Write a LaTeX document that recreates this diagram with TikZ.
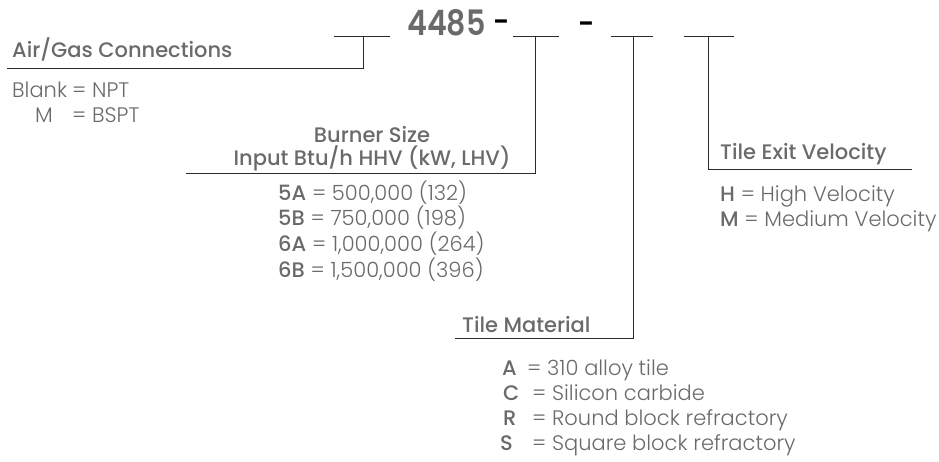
\documentclass[tikz,border=0pt]{standalone}
\usepackage{fontspec}
\setmainfont{Poppins}[UprightFont=* Light, BoldFont=* Medium]
\newfontfamily\modelfont{Poppins}[UprightFont=* SemiBold]
\usetikzlibrary{positioning}
\definecolor{txtgray}{HTML}{6A6A6A}
\definecolor{rulegray}{HTML}{2B2B2B}
\tikzset{
  head/.style={anchor=base west, inner sep=0pt, text=txtgray, font=\bfseries\fontsize{21}{23}\selectfont},
  item/.style={anchor=base west, inner sep=0pt, text=txtgray, font=\fontsize{21}{23}\selectfont},
  code/.style={item, font=\bfseries\fontsize{21}{23}\selectfont},
  rule/.style={rulegray, line width=1pt},
}
\begin{document}
\begin{tikzpicture}[x=1pt, y=-1pt]
    % 1. Page frame
    \useasboundingbox (0,0) rectangle (939,461);

    % 2. Model number and the dashes
    \node[anchor=base west, inner sep=0pt, text=txtgray, font=\modelfont\fontsize{35}{37}\selectfont]
        (model) at (407,35) {\scalebox{0.86}[1]{4485}};
    \node[anchor=base west, inner sep=0pt, font=\modelfont\fontsize{28}{30}\selectfont]
        (dash1) at (493,31) {-};
    \node[anchor=base west, inner sep=0pt, font=\modelfont\fontsize{28}{30}\selectfont]
        (dash2) at (578,33) {-};

    % 3. Blanks of the part number
    \coordinate (b1l) at (334,36); \coordinate (b1r) at (390,36); \coordinate (b1m) at (363,36);
    \coordinate (b2l) at (513,36); \coordinate (b2r) at (559,36); \coordinate (b2m) at (535,36);
    \coordinate (b3l) at (611,36); \coordinate (b3r) at (653,36); \coordinate (b3m) at (633,36);
    \coordinate (b4l) at (684,36); \coordinate (b4r) at (734,36); \coordinate (b4m) at (708,36);
    \foreach \b in {b1,b2,b3,b4}
        \draw[rule] (\b l) -- (\b r);

    % 4. Ends of the leader lines
    \coordinate (u1) at (7,68);
    \coordinate (u2) at (186,173);
    \coordinate (u3) at (455,338);
    \coordinate (u4) at (912,169);
    \draw[rule] (b1m) |- (u1);
    \draw[rule] (b2m) |- (u2);
    \draw[rule] (b3m) |- (u3);
    \draw[rule] (b4m) |- (u4);

    % 5. Air/Gas connections
    \node[head] (air) at (12,57) {Air/Gas Connections};
    \node[item] (blank) at (12,97) {Blank};
    \node[item] (npt) at (72,97) {= NPT};
    \node[item] (mark) at (35,122) {M};
    \node[item] (bspt) at (72,122) {= BSPT};

    % 6. Burner size
    \node[head, anchor=base] (size) at (372,142) {Burner Size};
    \node[head, anchor=base] (input) at (372,165) {Input Btu/h HHV (kW, LHV)};
    \foreach \c/\v [count=\i] in {5A/{500,000 (132)}, 5B/{750,000 (198)},
                                   6A/{1,000,000 (264)}, 6B/{1,500,000 (396)}}
        \node[item] (size\i) at (278, 174.3+25.7*\i) {\textbf{\c} = \v};

    % 7. Tile exit velocity
    \node[head] (exit) at (720,159) {Tile Exit Velocity};
    \node[item] (high) at (720,201) {\textbf{H} = High Velocity};
    \node[item] (medium) at (720,226) {\textbf{M} = Medium Velocity};

    % 8. Tile material
    \node[head] (mat) at (462,332) {Tile Material};
    \foreach \c/\x/\e/\t [count=\i] in {A/502/527/{310 alloy tile}, C/503/532/{Silicon carbide},
                                         R/503/532/{Round block refractory}, S/500/532/{Square block refractory}}
    {
        \node[code] (mat\c) at (\x, 350+25*\i) {\c};
        \node[item] (txt\c) at (\e, 350+25*\i) {= \t};
    }
\end{tikzpicture}
\end{document}
